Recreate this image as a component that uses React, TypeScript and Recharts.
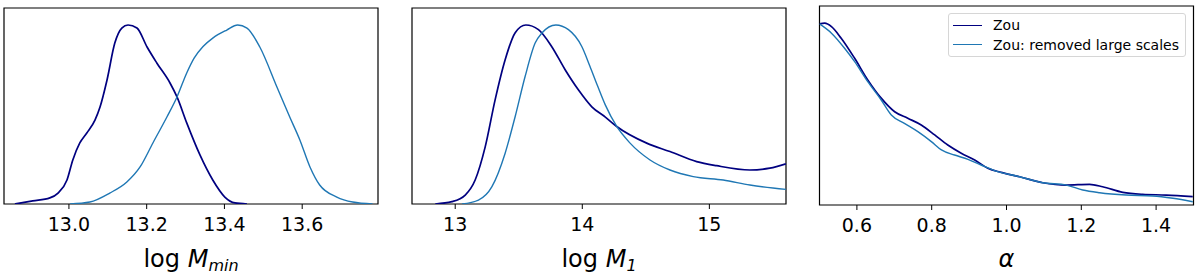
import { LineChart, Line, XAxis, YAxis, ReferenceArea } from "recharts";

// KDE curves (peak normalised to 1)
const zouMmin = [
  { x: 12.861, y: 0 }, { x: 12.907, y: 0.017 }, { x: 12.951, y: 0.034 }, { x: 12.972, y: 0.061 },
  { x: 12.995, y: 0.134 }, { x: 13.01, y: 0.246 }, { x: 13.028, y: 0.341 }, { x: 13.046, y: 0.397 },
  { x: 13.067, y: 0.469 }, { x: 13.08, y: 0.542 }, { x: 13.098, y: 0.693 }, { x: 13.118, y: 0.899 },
  { x: 13.136, y: 0.983 }, { x: 13.152, y: 1.0 }, { x: 13.175, y: 0.983 }, { x: 13.201, y: 0.877 },
  { x: 13.226, y: 0.788 }, { x: 13.26, y: 0.676 }, { x: 13.278, y: 0.598 }, { x: 13.303, y: 0.453 },
  { x: 13.337, y: 0.274 }, { x: 13.37, y: 0.134 }, { x: 13.401, y: 0.039 }, { x: 13.427, y: 0.006 },
  { x: 13.458, y: 0 },
];
const noLsMmin = [
  { x: 13.003, y: 0 }, { x: 13.054, y: 0.011 }, { x: 13.105, y: 0.061 }, { x: 13.149, y: 0.123 },
  { x: 13.183, y: 0.207 }, { x: 13.216, y: 0.341 }, { x: 13.252, y: 0.486 }, { x: 13.278, y: 0.598 },
  { x: 13.303, y: 0.732 }, { x: 13.322, y: 0.815 }, { x: 13.345, y: 0.88 }, { x: 13.37, y: 0.927 },
  { x: 13.406, y: 0.972 }, { x: 13.434, y: 1.0 }, { x: 13.458, y: 0.983 }, { x: 13.491, y: 0.877 },
  { x: 13.535, y: 0.654 }, { x: 13.568, y: 0.486 }, { x: 13.594, y: 0.358 }, { x: 13.62, y: 0.207 },
  { x: 13.645, y: 0.106 }, { x: 13.689, y: 0.039 }, { x: 13.73, y: 0.011 }, { x: 13.781, y: 0 },
];

const zouM1 = [
  { x: 12.843, y: 0 }, { x: 12.974, y: 0.013 }, { x: 13.079, y: 0.05 }, { x: 13.157, y: 0.134 },
  { x: 13.236, y: 0.319 }, { x: 13.314, y: 0.582 }, { x: 13.393, y: 0.806 }, { x: 13.472, y: 0.957 },
  { x: 13.556, y: 1.0 }, { x: 13.655, y: 0.974 }, { x: 13.76, y: 0.879 }, { x: 13.865, y: 0.75 },
  { x: 13.969, y: 0.638 }, { x: 14.075, y: 0.543 }, { x: 14.179, y: 0.487 }, { x: 14.271, y: 0.433 },
  { x: 14.507, y: 0.34 }, { x: 14.69, y: 0.293 }, { x: 14.9, y: 0.237 }, { x: 15.057, y: 0.214 },
  { x: 15.319, y: 0.19 }, { x: 15.476, y: 0.2 }, { x: 15.602, y: 0.224 },
];
const noLsM1 = [
  { x: 13.053, y: 0 }, { x: 13.183, y: 0.022 }, { x: 13.289, y: 0.097 }, { x: 13.393, y: 0.284 },
  { x: 13.472, y: 0.489 }, { x: 13.55, y: 0.712 }, { x: 13.629, y: 0.899 }, { x: 13.682, y: 0.955 },
  { x: 13.792, y: 1.0 }, { x: 13.891, y: 0.974 }, { x: 13.996, y: 0.88 }, { x: 14.06, y: 0.77 },
  { x: 14.12, y: 0.66 }, { x: 14.18, y: 0.555 }, { x: 14.271, y: 0.433 }, { x: 14.376, y: 0.34 },
  { x: 14.533, y: 0.246 }, { x: 14.69, y: 0.19 }, { x: 14.873, y: 0.153 }, { x: 15.109, y: 0.134 },
  { x: 15.319, y: 0.106 }, { x: 15.602, y: 0.082 },
];

const zouAlpha = [
  { x: 0.5, y: 1.0 }, { x: 0.514, y: 1.004 }, { x: 0.532, y: 0.985 }, { x: 0.558, y: 0.921 },
  { x: 0.594, y: 0.81 }, { x: 0.629, y: 0.691 }, { x: 0.665, y: 0.59 }, { x: 0.701, y: 0.515 },
  { x: 0.736, y: 0.479 }, { x: 0.772, y: 0.442 }, { x: 0.808, y: 0.387 }, { x: 0.843, y: 0.331 },
  { x: 0.879, y: 0.286 }, { x: 0.915, y: 0.249 }, { x: 0.95, y: 0.203 }, { x: 0.986, y: 0.18 },
  { x: 1.035, y: 0.156 }, { x: 1.097, y: 0.123 }, { x: 1.16, y: 0.11 }, { x: 1.222, y: 0.114 },
  { x: 1.257, y: 0.101 }, { x: 1.311, y: 0.07 }, { x: 1.364, y: 0.059 }, { x: 1.427, y: 0.055 },
  { x: 1.498, y: 0.046 },
];
const noLsAlpha = [
  { x: 0.5, y: 1.0 }, { x: 0.532, y: 0.949 }, { x: 0.567, y: 0.866 }, { x: 0.594, y: 0.792 },
  { x: 0.629, y: 0.681 }, { x: 0.665, y: 0.58 }, { x: 0.692, y: 0.497 }, { x: 0.727, y: 0.451 },
  { x: 0.763, y: 0.405 }, { x: 0.799, y: 0.35 }, { x: 0.826, y: 0.304 }, { x: 0.861, y: 0.276 },
  { x: 0.897, y: 0.252 }, { x: 0.932, y: 0.221 }, { x: 0.968, y: 0.19 }, { x: 1.035, y: 0.156 },
  { x: 1.097, y: 0.123 }, { x: 1.16, y: 0.11 }, { x: 1.204, y: 0.083 }, { x: 1.249, y: 0.068 },
  { x: 1.32, y: 0.055 }, { x: 1.391, y: 0.05 }, { x: 1.445, y: 0.037 }, { x: 1.498, y: 0.018 },
];

const ticksMmin = [13.0, 13.2, 13.4, 13.6];
const ticksM1 = [13, 14, 15];
const ticksAlpha = [0.6, 0.8, 1.0, 1.2, 1.4];

const seriesNames = ["Zou", "Zou: removed large scales"];
const DARK = "#000080";
const LIGHT = "#1f77b4";
const FONT = "'DejaVu Sans', sans-serif";

type Pt = { x: number; y: number };

function AxisLabel({ viewBox, base, sub }: any) {
  const cx = viewBox.x + viewBox.width / 2;
  return (
    <text x={cx} y={267} textAnchor="middle" fontFamily={FONT} fontSize={24} fill="#000">
      {base && <tspan>{base} </tspan>}
      <tspan fontStyle="italic">{sub ? "M" : "α"}</tspan>
      {sub && (
        <tspan fontStyle="italic" fontSize={16} dy={4}>
          {sub}
        </tspan>
      )}
    </text>
  );
}

function Panel(props: {
  left: number;
  top: number;
  bottom: number;
  mLeft: number;
  mRight: number;
  domain: [number, number];
  yMax: number;
  ticks: number[];
  digits: number;
  dark: Pt[];
  light: Pt[];
  base?: string;
  sub?: string;
  legend?: boolean;
}) {
  const { domain, yMax } = props;
  return (
    <div style={{ position: "absolute", left: props.left, top: 0 }}>
      <LineChart
        width={400}
        height={274}
        margin={{ top: props.top, left: props.mLeft, right: props.mRight, bottom: 0 }}
      >
        <XAxis
          dataKey="x"
          type="number"
          domain={domain}
          allowDataOverflow
          ticks={props.ticks}
          tickFormatter={(v: number) => v.toFixed(props.digits)}
          height={274 - props.bottom}
          axisLine={false}
          tickLine={{ stroke: "#000", strokeWidth: 1 }}
          tickSize={5}
          tickMargin={9}
          tick={{ fill: "#000", fontSize: 19, fontFamily: FONT }}
          label={(p: any) => <AxisLabel viewBox={p.viewBox} base={props.base} sub={props.sub} />}
        />
        <YAxis hide type="number" domain={[0, yMax]} allowDataOverflow />
        <Line
          data={props.dark}
          dataKey="y"
          type="monotone"
          stroke={DARK}
          strokeWidth={1.7}
          dot={false}
          activeDot={false}
          isAnimationActive={false}
          name={seriesNames[0]}
        />
        <Line
          data={props.light}
          dataKey="y"
          type="monotone"
          stroke={LIGHT}
          strokeWidth={1.4}
          dot={false}
          activeDot={false}
          isAnimationActive={false}
          name={seriesNames[1]}
        />
        <ReferenceArea
          x1={domain[0]}
          x2={domain[1]}
          y1={0}
          y2={yMax}
          fill="none"
          stroke="#000"
          strokeWidth={1.2}
          ifOverflow="visible"
        />
      </LineChart>
      {props.legend && (
        <div
          style={{
            position: "absolute",
            left: 148,
            top: 13,
            width: 238,
            height: 44,
            border: "1px solid #d6d6d6",
            borderRadius: 3,
            background: "rgba(255,255,255,0.8)",
            fontFamily: FONT,
            fontSize: 14,
            color: "#000",
            boxSizing: "border-box",
          }}
        >
          {seriesNames.map((n, i) => (
            <div key={n} style={{ position: "absolute", left: 4, top: 2 + i * 19.5, height: 18, display: "flex", alignItems: "center" }}>
              <span style={{ display: "inline-block", width: 29, height: 0, borderTop: `1.6px solid ${i === 0 ? DARK : LIGHT}` }} />
              <span style={{ marginLeft: 11, lineHeight: "18px", whiteSpace: "nowrap" }}>{n}</span>
            </div>
          ))}
        </div>
      )}
    </div>
  );
}

export default function App() {
  return (
    <div style={{ position: "absolute", left: 0, top: 0, width: 1200, height: 274, background: "#fff" }}>
      <Panel
        left={0}
        top={8}
        bottom={204}
        mLeft={4}
        mRight={22}
        domain={[12.833, 13.795]}
        yMax={1.095}
        ticks={ticksMmin}
        digits={1}
        dark={zouMmin}
        light={noLsMmin}
        base="log"
        sub="min"
      />
      <Panel
        left={400}
        top={8}
        bottom={204}
        mLeft={12}
        mRight={14}
        domain={[12.66, 15.603]}
        yMax={1.095}
        ticks={ticksM1}
        digits={0}
        dark={zouM1}
        light={noLsM1}
        base="log"
        sub="1"
      />
      <Panel
        left={800}
        top={6}
        bottom={205}
        mLeft={19.5}
        mRight={6.5}
        domain={[0.5, 1.5]}
        yMax={1.099}
        ticks={ticksAlpha}
        digits={1}
        dark={zouAlpha}
        light={noLsAlpha}
        legend
      />
    </div>
  );
}
